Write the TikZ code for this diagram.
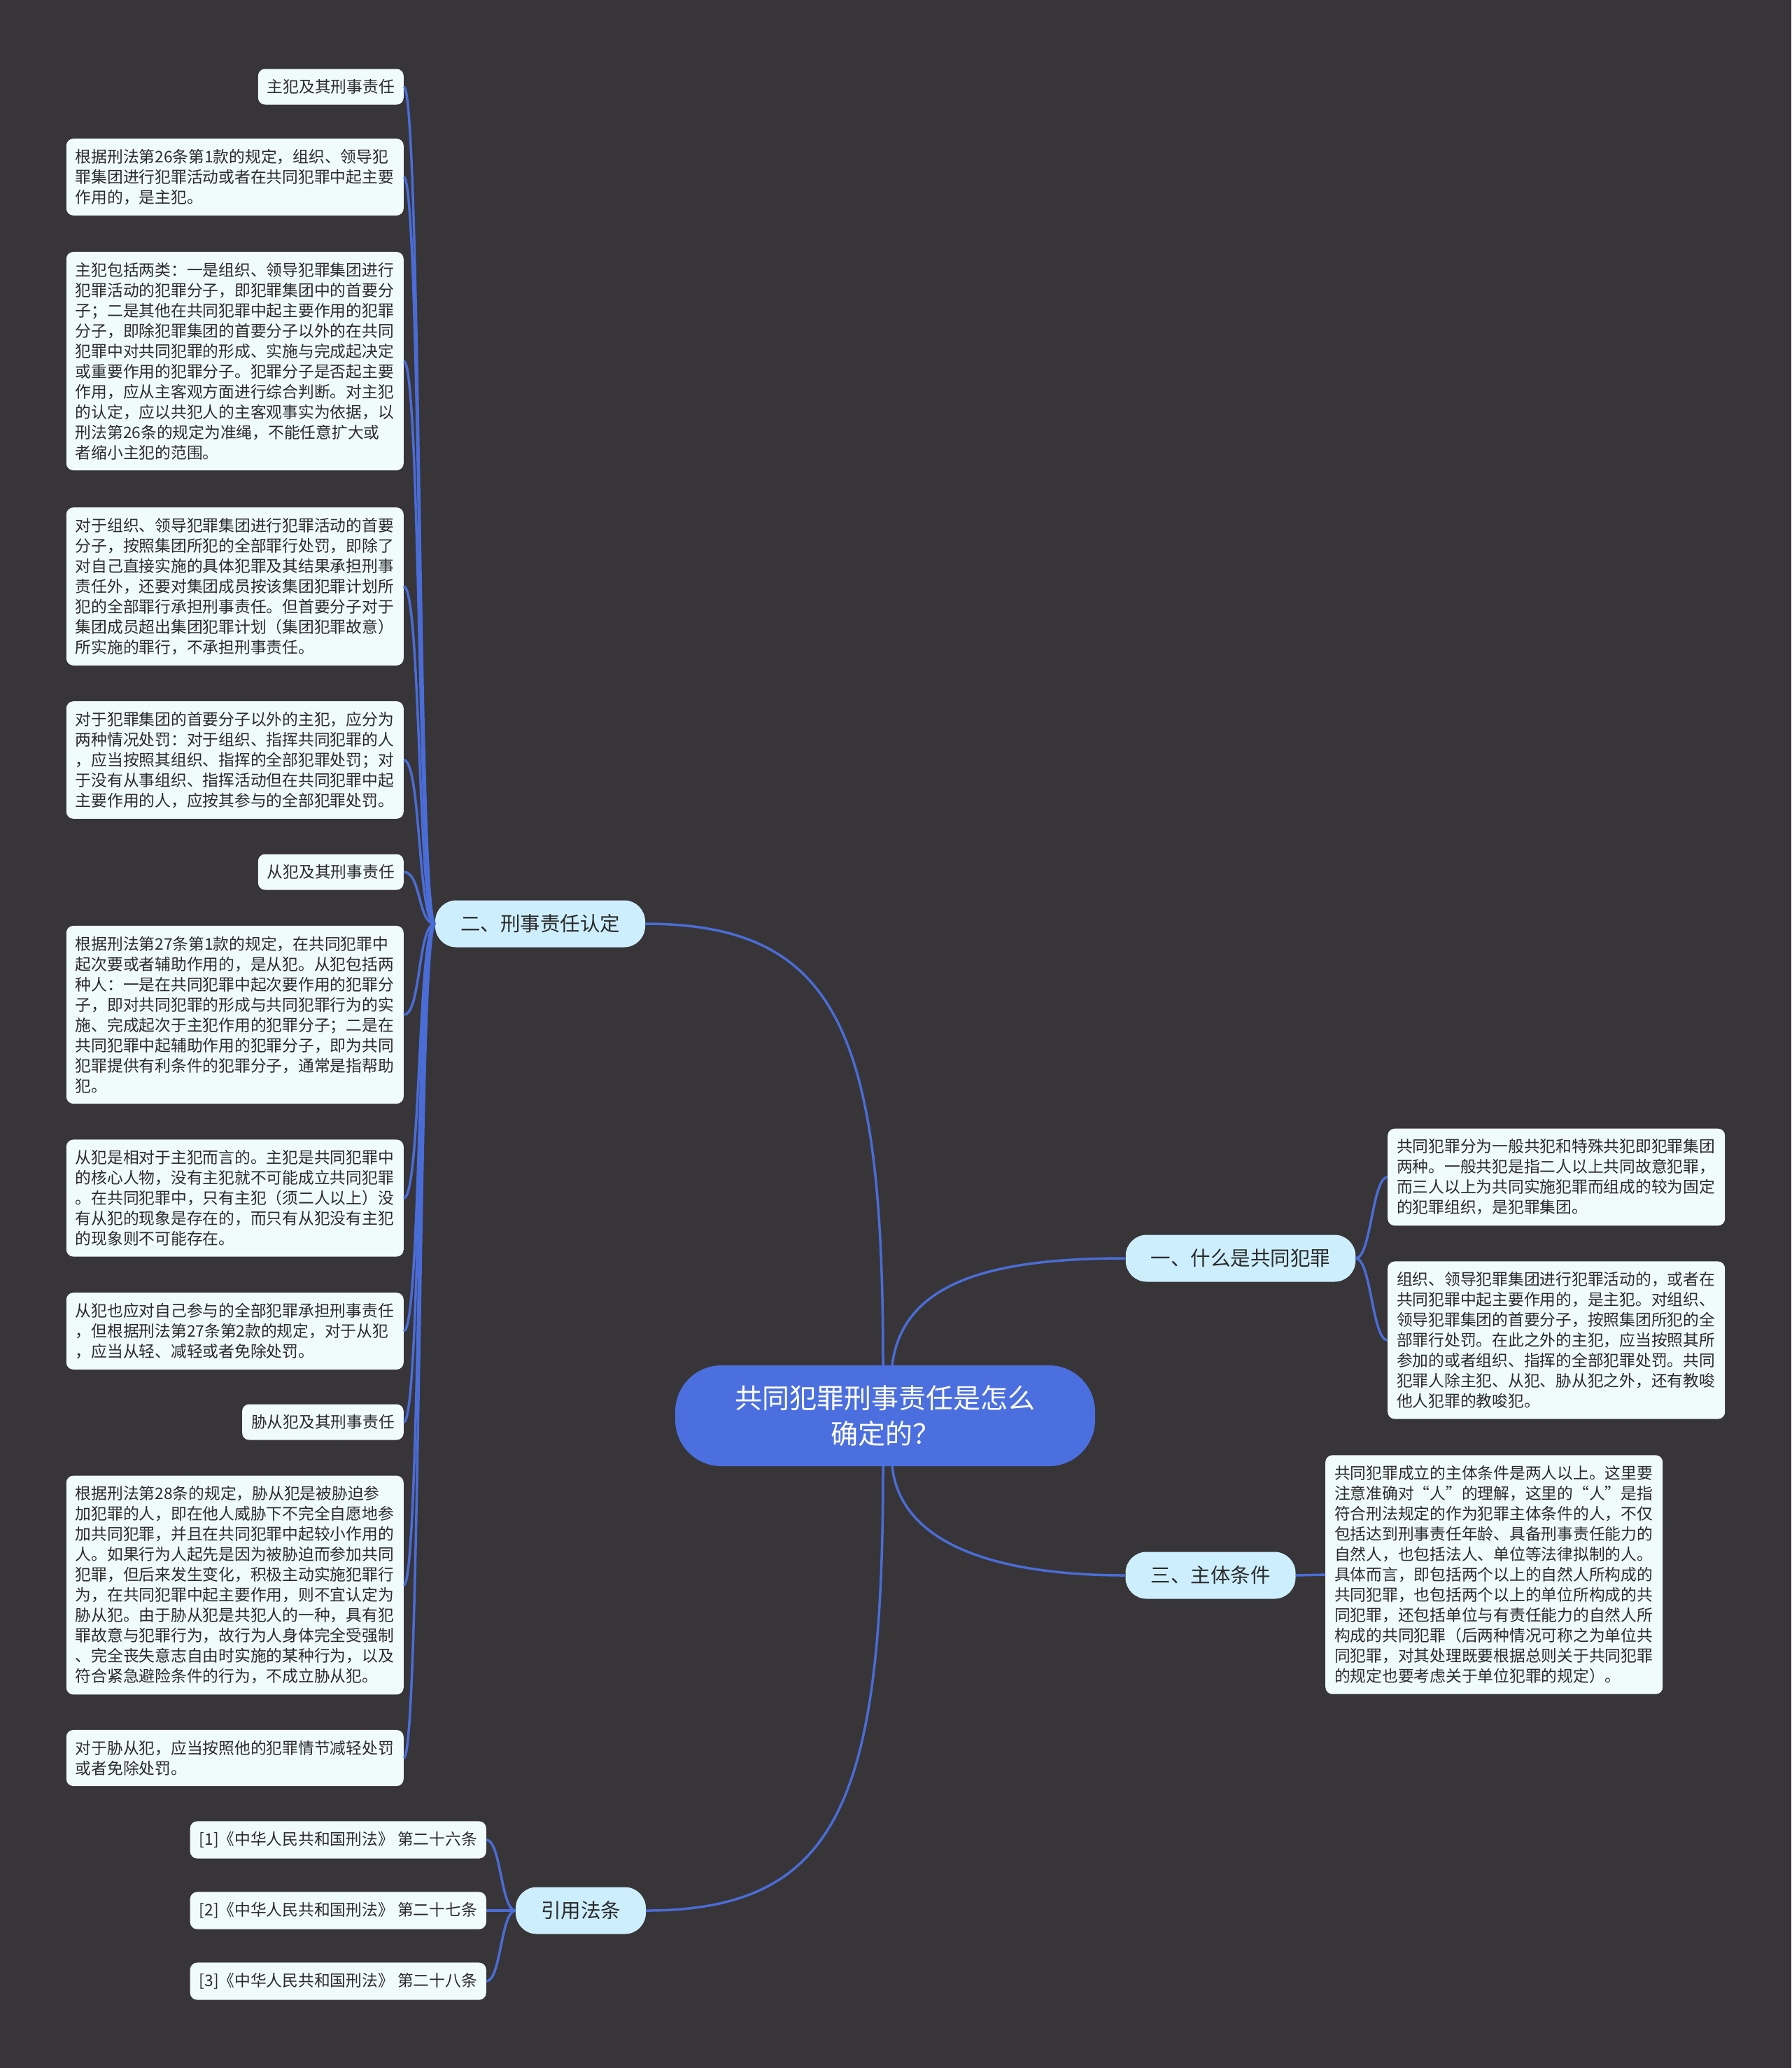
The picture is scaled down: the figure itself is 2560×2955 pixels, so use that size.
\documentclass[tikz,border=0pt]{standalone}
\usepackage{fontspec}
\newfontfamily\cjk{Noto Sans CJK SC}

\definecolor{bgc}{HTML}{373538}
\definecolor{rootc}{HTML}{4B6FDE}
\definecolor{topicc}{HTML}{CDEFFD}
\definecolor{leafc}{HTML}{F0FBFC}
\definecolor{linkc}{HTML}{4A6CD6}
\definecolor{txtc}{HTML}{2B2B2B}

\begin{document}
\begin{tikzpicture}[
  x=1pt, y=-1pt,
  root/.style={fill=rootc, text=white, rounded corners=66pt, minimum width=600pt,
               minimum height=144pt, align=center, font=\cjk\fontsize{39}{51}\selectfont},
  topic/.style={fill=topicc, text=txtc, rounded corners=30pt, minimum height=67pt,
                inner xsep=36pt, font=\cjk\fontsize{28.5}{34}\selectfont},
  leaf/.style={fill=leafc, text=txtc, rounded corners=10pt, inner xsep=13pt,
               inner ysep=15pt, align=left, font=\cjk\fontsize{22.75}{29}\selectfont},
  para/.style={leaf, text width=456pt},
  link/.style={draw=linkc, line width=3.5pt}
]
  \fill[bgc] (0,0) rectangle (2560,2955);

  \node[root] (root) at (1265,2023) {共同犯罪刑事责任是怎么\\确定的？};

  \node[topic] (what) at (1773,1798) {一、什么是共同犯罪};
  \node[topic] (resp) at (772,1320)  {二、刑事责任认定};
  \node[topic] (subj) at (1730,2251) {三、主体条件};
  \node[topic] (laws) at (830,2730)  {引用法条};

  % 二、刑事责任认定
  \node[leaf, anchor=east] (zf) at (577,124) {主犯及其刑事责任};
  \node[para, anchor=east] (zfdef) at (577,253) {根据刑法第26条第1款的规定，组织、领导犯\\罪集团进行犯罪活动或者在共同犯罪中起主要\\作用的，是主犯。};
  \node[para, anchor=east] (zfkinds) at (577,516) {主犯包括两类：一是组织、领导犯罪集团进行\\犯罪活动的犯罪分子，即犯罪集团中的首要分\\子；二是其他在共同犯罪中起主要作用的犯罪\\分子，即除犯罪集团的首要分子以外的在共同\\犯罪中对共同犯罪的形成、实施与完成起决定\\或重要作用的犯罪分子。犯罪分子是否起主要\\作用，应从主客观方面进行综合判断。对主犯\\的认定，应以共犯人的主客观事实为依据，以\\刑法第26条的规定为准绳，不能任意扩大或\\者缩小主犯的范围。};
  \node[para, anchor=east] (zfgroup) at (577,838) {对于组织、领导犯罪集团进行犯罪活动的首要\\分子，按照集团所犯的全部罪行处罚，即除了\\对自己直接实施的具体犯罪及其结果承担刑事\\责任外，还要对集团成员按该集团犯罪计划所\\犯的全部罪行承担刑事责任。但首要分子对于\\集团成员超出集团犯罪计划（集团犯罪故意）\\所实施的罪行，不承担刑事责任。};
  \node[para, anchor=east] (zfother) at (577,1086) {对于犯罪集团的首要分子以外的主犯，应分为\\两种情况处罚：对于组织、指挥共同犯罪的人\\，应当按照其组织、指挥的全部犯罪处罚；对\\于没有从事组织、指挥活动但在共同犯罪中起\\主要作用的人，应按其参与的全部犯罪处罚。};
  \node[leaf, anchor=east] (cf) at (577,1246) {从犯及其刑事责任};
  \node[para, anchor=east] (cfdef) at (577,1450) {根据刑法第27条第1款的规定，在共同犯罪中\\起次要或者辅助作用的，是从犯。从犯包括两\\种人：一是在共同犯罪中起次要作用的犯罪分\\子，即对共同犯罪的形成与共同犯罪行为的实\\施、完成起次于主犯作用的犯罪分子；二是在\\共同犯罪中起辅助作用的犯罪分子，即为共同\\犯罪提供有利条件的犯罪分子，通常是指帮助\\犯。};
  \node[para, anchor=east] (cfrel) at (577,1712) {从犯是相对于主犯而言的。主犯是共同犯罪中\\的核心人物，没有主犯就不可能成立共同犯罪\\。在共同犯罪中，只有主犯（须二人以上）没\\有从犯的现象是存在的，而只有从犯没有主犯\\的现象则不可能存在。};
  \node[para, anchor=east] (cfpun) at (577,1902) {从犯也应对自己参与的全部犯罪承担刑事责任\\，但根据刑法第27条第2款的规定，对于从犯\\，应当从轻、减轻或者免除处罚。};
  \node[leaf, anchor=east] (xcf) at (577,2032) {胁从犯及其刑事责任};
  \node[para, anchor=east] (xcfdef) at (577,2265) {根据刑法第28条的规定，胁从犯是被胁迫参\\加犯罪的人，即在他人威胁下不完全自愿地参\\加共同犯罪，并且在共同犯罪中起较小作用的\\人。如果行为人起先是因为被胁迫而参加共同\\犯罪，但后来发生变化，积极主动实施犯罪行\\为，在共同犯罪中起主要作用，则不宜认定为\\胁从犯。由于胁从犯是共犯人的一种，具有犯\\罪故意与犯罪行为，故行为人身体完全受强制\\、完全丧失意志自由时实施的某种行为，以及\\符合紧急避险条件的行为，不成立胁从犯。};
  \node[para, anchor=east] (xcfpun) at (577,2512) {对于胁从犯，应当按照他的犯罪情节减轻处罚\\或者免除处罚。};

  % 引用法条
  \node[leaf, anchor=east] (fa26) at (695,2629) {[1]《中华人民共和国刑法》 第二十六条};
  \node[leaf, anchor=east] (fa27) at (695,2730) {[2]《中华人民共和国刑法》 第二十七条};
  \node[leaf, anchor=east] (fa28) at (695,2831) {[3]《中华人民共和国刑法》 第二十八条};

  % 一、三
  \node[para, anchor=west] (gc1) at (1983,1682) {共同犯罪分为一般共犯和特殊共犯即犯罪集团\\两种。一般共犯是指二人以上共同故意犯罪，\\而三人以上为共同实施犯罪而组成的较为固定\\的犯罪组织，是犯罪集团。};
  \node[para, anchor=west] (gc2) at (1983,1915) {组织、领导犯罪集团进行犯罪活动的，或者在\\共同犯罪中起主要作用的，是主犯。对组织、\\领导犯罪集团的首要分子，按照集团所犯的全\\部罪行处罚。在此之外的主犯，应当按照其所\\参加的或者组织、指挥的全部犯罪处罚。共同\\犯罪人除主犯、从犯、胁从犯之外，还有教唆\\他人犯罪的教唆犯。};
  \node[para, anchor=west] (tj) at (1894,2250) {共同犯罪成立的主体条件是两人以上。这里要\\注意准确对“人”的理解，这里的“人”是指\\符合刑法规定的作为犯罪主体条件的人，不仅\\包括达到刑事责任年龄、具备刑事责任能力的\\自然人，也包括法人、单位等法律拟制的人。\\具体而言，即包括两个以上的自然人所构成的\\共同犯罪，也包括两个以上的单位所构成的共\\同犯罪，还包括单位与有责任能力的自然人所\\构成的共同犯罪（后两种情况可称之为单位共\\同犯罪，对其处理既要根据总则关于共同犯罪\\的规定也要考虑关于单位犯罪的规定）。};

  \draw[link] ([xshift=-3pt]root.north) .. controls (1262,1480) and (1200,1320) .. (resp.east);
  \draw[link] ([xshift=-3pt]root.south) .. controls (1262,2570) and (1200,2730) .. (laws.east);
  \draw[link] ([xshift=10pt]root.north) .. controls (1290,1830) and (1420,1798) .. (what.west);
  \draw[link] ([xshift=10pt]root.south) .. controls (1287,2205) and (1420,2251) .. (subj.west);

  \foreach \leafname in {zf,zfdef,zfkinds,zfgroup,zfother,cf,cfdef,cfrel,cfpun,xcf,xcfdef,xcfpun}
    \draw[link] (resp.west) .. controls +(-25,0) and +(25,0) .. (\leafname.east);
  \foreach \leafname in {fa26,fa27,fa28}
    \draw[link] (laws.west) .. controls +(-21,0) and +(21,0) .. (\leafname.east);
  \foreach \leafname in {gc1,gc2}
    \draw[link] (what.east) .. controls +(22,0) and +(-22,0) .. (\leafname.west);
  \draw[link] (subj.east) -- (tj.west);
\end{tikzpicture}
\end{document}
